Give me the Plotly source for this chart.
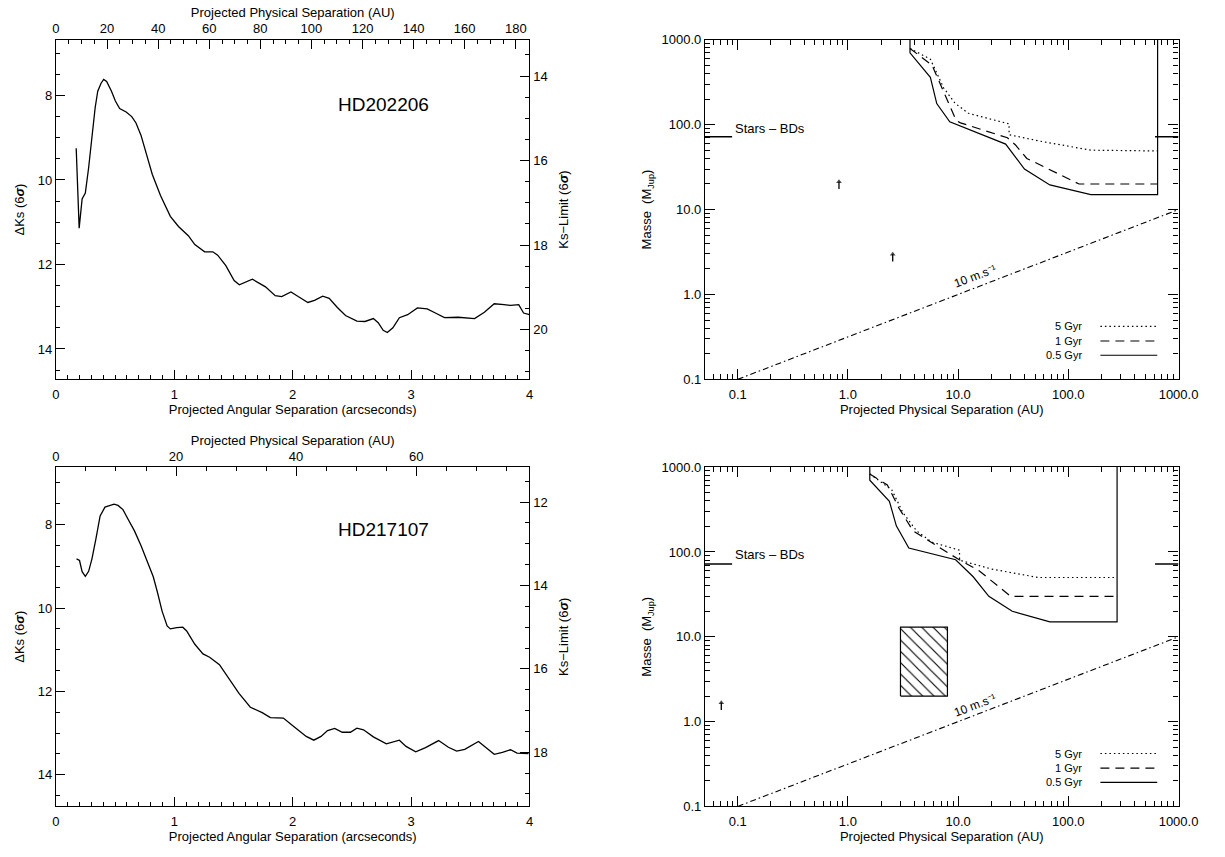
import math
import plotly.graph_objects as go

W, H = 1225, 857

# ---------------- data ----------------
# HD202206 : 6-sigma contrast curve (arcsec, Delta Ks)
hd202206_sep = [0.171, 0.196, 0.221, 0.248, 0.276, 0.304, 0.331, 0.353, 0.381, 0.403, 0.428, 0.469,
                0.502, 0.538, 0.593, 0.640, 0.676, 0.718, 0.768, 0.814, 0.883, 0.966, 1.035, 1.118,
                1.173, 1.256, 1.325, 1.366, 1.435, 1.505, 1.549, 1.659, 1.770, 1.852, 1.907, 1.985,
                2.046, 2.128, 2.184, 2.253, 2.308, 2.377, 2.446, 2.542, 2.611, 2.681, 2.722, 2.764,
                2.799, 2.846, 2.901, 2.971, 3.053, 3.136, 3.205, 3.282, 3.398, 3.467, 3.536, 3.619,
                3.702, 3.785, 3.840, 3.909, 3.950, 4.000]
hd202206_dks = [9.25, 11.14, 10.45, 10.31, 9.71, 8.94, 8.29, 7.90, 7.71, 7.62, 7.67, 7.90,
                8.13, 8.31, 8.39, 8.50, 8.65, 8.94, 9.41, 9.87, 10.37, 10.86, 11.10, 11.32,
                11.53, 11.70, 11.70, 11.78, 12.03, 12.38, 12.48, 12.35, 12.53, 12.74, 12.76, 12.65,
                12.76, 12.90, 12.85, 12.75, 12.80, 13.02, 13.21, 13.34, 13.35, 13.28, 13.38, 13.56,
                13.61, 13.50, 13.26, 13.19, 13.03, 13.05, 13.15, 13.26, 13.25, 13.27, 13.28, 13.13,
                12.93, 12.95, 12.97, 12.95, 13.15, 13.19]

# HD217107 : 6-sigma contrast curve
hd217107_sep = [0.174, 0.199, 0.221, 0.248, 0.276, 0.304, 0.337, 0.373, 0.414, 0.455, 0.491, 0.524,
                0.566, 0.607, 0.663, 0.718, 0.768, 0.822, 0.856, 0.897, 0.939, 0.966, 1.021, 1.071,
                1.104, 1.173, 1.242, 1.298, 1.381, 1.463, 1.546, 1.642, 1.742, 1.811, 1.921, 1.990,
                2.046, 2.114, 2.178, 2.239, 2.294, 2.355, 2.418, 2.487, 2.542, 2.598, 2.681, 2.791,
                2.901, 2.957, 3.039, 3.122, 3.232, 3.315, 3.385, 3.453, 3.569, 3.633, 3.702, 3.771,
                3.840, 3.895, 3.992]
hd217107_dks = [8.82, 8.86, 9.13, 9.24, 9.12, 8.82, 8.35, 7.79, 7.58, 7.54, 7.51, 7.54,
                7.64, 7.86, 8.15, 8.50, 8.86, 9.25, 9.61, 10.08, 10.43, 10.50, 10.47, 10.46,
                10.55, 10.87, 11.10, 11.18, 11.36, 11.69, 12.05, 12.38, 12.51, 12.63, 12.64, 12.80,
                12.92, 13.08, 13.17, 13.08, 12.94, 12.89, 12.98, 12.98, 12.88, 12.92, 13.09, 13.26,
                13.17, 13.32, 13.45, 13.35, 13.18, 13.34, 13.43, 13.39, 13.20, 13.35, 13.51, 13.46,
                13.40, 13.48, 13.49]

hd202206_dist_pc = 46.34
hd217107_dist_pc = 19.72
hd202206_kmag = 6.46
hd217107_kmag = 4.54

# Mass detection limits (AU, M_Jup) for HD202206
b_05_a = [3.66, 3.66, 5.6, 6.4, 8.4, 27.0, 40.0, 68.0, 160.0, 646.0, 646.0]
b_05_m = [1000.0, 700.0, 360.0, 177.0, 108.0, 59.0, 30.0, 19.5, 15.0, 15.0, 1000.0]
b_1_a = [3.66, 5.8, 9.6, 10.5, 28.0, 33.0, 42.0, 125.0, 646.0]
b_1_m = [790.0, 500.0, 112.0, 105.0, 70.0, 58.0, 40.0, 20.0, 20.0]
b_5_a = [3.66, 5.6, 7.4, 9.4, 12.4, 29.0, 29.0, 55.0, 160.0, 646.0]
b_5_m = [790.0, 590.0, 270.0, 178.0, 136.0, 102.0, 76.0, 64.0, 50.0, 49.0]

# Mass detection limits for HD217107
d_05_a = [1.58, 1.58, 2.38, 2.75, 3.57, 9.5, 13.7, 19.0, 31.0, 68.0, 277.0, 277.0]
d_05_m = [1000.0, 700.0, 395.0, 203.0, 111.0, 81.0, 51.0, 30.0, 20.0, 15.0, 15.0, 1000.0]
d_1_a = [1.58, 2.28, 2.9, 3.9, 4.6, 9.9, 15.5, 30.0, 277.0]
d_1_m = [830.0, 615.0, 330.0, 177.0, 155.0, 83.0, 60.0, 30.0, 30.0]
d_5_a = [1.58, 2.5, 3.16, 4.2, 5.8, 10.3, 10.3, 20.0, 53.0, 277.0]
d_5_m = [830.0, 540.0, 290.0, 177.0, 130.0, 105.0, 80.0, 63.0, 50.0, 50.0]

planets_202206_a = [0.83, 2.55]
planets_202206_m = [17.4, 2.44]
planets_217107_a = [0.071]
planets_217107_m = [1.37]
hd217107c_a = [3.0, 8.0]
hd217107c_m = [2.0, 13.0]

rv10_a = [0.1, 1000.0]
rv10_m = [0.1, 10.0]
stars_bd_mass = 72.0
stars_bd_left_a = [0.05, 0.089]
stars_bd_right_a = [612.0, 1000.0]

legend_labels = ["5 Gyr", "1 Gyr", "0.5 Gyr"]

# ---------------- styling ----------------
FONT = "Liberation Sans"
BLACK = "black"
DOT = "1.5px,3px"
DASH = "9px,6px"
DASHDOT = "6px,3px,1.5px,3px"
ARROW_FACTOR = 1.22  # length of the lower-limit arrows (multiplicative, log axis)


def xdom(x0, x1):
    return [x0 / W, x1 / W]


def ydom(top, bottom):
    return [1 - bottom / H, 1 - top / H]


LEFT_X = xdom(53, 536)
RIGHT_X = xdom(715, 1198)
TOP_Y = ydom(33.3, 379)
BOT_Y = ydom(468.3, 813.7)

base = dict(showline=True, linecolor=BLACK, linewidth=1.2, ticks="inside", tickcolor=BLACK,
            tickwidth=1.2, showgrid=False, zeroline=False,
            tickfont=dict(family=FONT, size=13, color=BLACK))


def minor(dt, tick0=0):
    return dict(ticks="inside", dtick=dt, tick0=tick0, ticklen=4, tickcolor=BLACK,
                tickwidth=1.0, showgrid=False)


log_minor_vals = [k * 10 ** e for e in range(-2, 4) for k in range(2, 10)]
log_minor = dict(ticks="inside", tickmode="array", tickvals=log_minor_vals, ticklen=5,
                 tickcolor=BLACK, tickwidth=1.0, showgrid=False)

fig = go.Figure()

# --------- left panels ---------
left_cfg = [
    (hd202206_sep, hd202206_dks, hd202206_dist_pc, hd202206_kmag, "x", "x2", "y", "y2", TOP_Y, [14.72, 6.68]),
    (hd217107_sep, hd217107_dks, hd217107_dist_pc, hd217107_kmag, "x4", "x5", "y4", "y5", BOT_Y, [14.76, 6.62]),
]
for sep, dks, dist, kmag, xa, xt, ya, yr, ydomain, yrange in left_cfg:
    fig.add_trace(go.Scatter(x=sep, y=dks, mode="lines", xaxis=xa, yaxis=ya,
                             line=dict(color=BLACK, width=1.3), showlegend=False, hoverinfo="skip"))
    fig.add_trace(go.Scatter(x=[], y=[], mode="lines", xaxis=xt, yaxis=yr, showlegend=False))
    xn = "xaxis" + xa[1:]
    xtn = "xaxis" + xt[1:]
    yn = "yaxis" + ya[1:]
    yrn = "yaxis" + yr[1:]
    fig.layout[xn] = dict(base, domain=LEFT_X, range=[0, 4], tick0=0, dtick=1, ticklen=9,
                          minor=minor(0.1), anchor=ya, side="bottom", ticklabelstandoff=3,
                          title=dict(text="Projected Angular Separation (arcseconds)",
                                     font=dict(family=FONT, size=13, color=BLACK), standoff=3))
    fig.layout[xtn] = dict(base, range=[0, 4 * dist], tick0=0, dtick=20, ticklen=9,
                           minor=minor(5), overlaying=xa, anchor=ya, side="top",
                           title=dict(text="Projected Physical Separation (AU)",
                                      font=dict(family=FONT, size=13, color=BLACK), standoff=0))
    fig.layout[yn] = dict(base, domain=ydomain, range=yrange, tick0=0, dtick=2, ticklen=9,
                          minor=minor(0.5), anchor=xa, side="left",
                          title=dict(text="ΔKs (6<b><i>σ</i></b>)",
                                     font=dict(family=FONT, size=13, color=BLACK), standoff=10))
    fig.layout[yrn] = dict(base, range=[yrange[0] + kmag, yrange[1] + kmag], tick0=0, dtick=2,
                           ticklen=9, minor=minor(0.5), overlaying=ya, anchor=xa, side="right",
                           title=dict(text="Ks−Limit (6<b><i>σ</i></b>)",
                                      font=dict(family=FONT, size=13, color=BLACK), standoff=12))

# --------- right panels ---------
right_cfg = [
    ("x3", "y3", TOP_Y, (b_5_a, b_5_m), (b_1_a, b_1_m), (b_05_a, b_05_m),
     planets_202206_a, planets_202206_m),
    ("x6", "y6", BOT_Y, (d_5_a, d_5_m), (d_1_a, d_1_m), (d_05_a, d_05_m),
     planets_217107_a, planets_217107_m),
]
for xa, ya, ydomain, c5, c1, c05, pa, pm in right_cfg:
    for (ax_, my_), dash in ((c5, DOT), (c1, DASH), (c05, "solid")):
        fig.add_trace(go.Scatter(x=ax_, y=my_, mode="lines", xaxis=xa, yaxis=ya,
                                 line=dict(color=BLACK, width=1.2, dash=dash),
                                 showlegend=False, hoverinfo="skip"))
    # 10 m/s RV limit
    fig.add_trace(go.Scatter(x=rv10_a, y=rv10_m, mode="lines", xaxis=xa, yaxis=ya,
                             line=dict(color=BLACK, width=1.1, dash=DASHDOT),
                             showlegend=False, hoverinfo="skip"))
    # stars / brown dwarfs boundary
    for seg in (stars_bd_left_a, stars_bd_right_a):
        fig.add_trace(go.Scatter(x=seg, y=[stars_bd_mass] * len(seg), mode="lines",
                                 xaxis=xa, yaxis=ya, line=dict(color=BLACK, width=1.5),
                                 showlegend=False, hoverinfo="skip"))
    # planets (minimum masses) : short upward arrows
    for a, m in zip(pa, pm):
        fig.add_trace(go.Scatter(x=[a, a], y=[m, m * ARROW_FACTOR], mode="lines+markers",
                                 xaxis=xa, yaxis=ya, line=dict(color=BLACK, width=1.3),
                                 marker=dict(symbol=["line-ew", "triangle-up"], size=[0, 5],
                                             color=BLACK, line=dict(width=0)),
                                 showlegend=False, hoverinfo="skip"))
    xn = "xaxis" + xa[1:]
    yn = "yaxis" + ya[1:]
    fig.layout[xn] = dict(base, type="log", domain=RIGHT_X, range=[math.log10(0.0505), 3],
                          tickmode="array", tickvals=[0.1, 1, 10, 100, 1000],
                          ticktext=["0.1", "1.0", "10.0", "100.0", "1000.0"], ticklen=10,
                          minor=log_minor, mirror="ticks", anchor=ya, ticklabelstandoff=3,
                          title=dict(text="Projected Physical Separation (AU)",
                                     font=dict(family=FONT, size=13, color=BLACK), standoff=3))
    fig.layout[yn] = dict(base, type="log", domain=ydomain, range=[-1, 3],
                          tickmode="array", tickvals=[0.1, 1, 10, 100, 1000],
                          ticktext=["0.1", "1.0", "10.0", "100.0", "1000.0"], ticklen=10,
                          minor=log_minor, mirror="ticks", anchor=xa,
                          title=dict(text="Masse  (M<sub>Jup</sub>)",
                                     font=dict(family=FONT, size=13, color=BLACK), standoff=6))
    # legend
    for lab, dash, yy in zip(legend_labels, (DOT, DASH, "solid"), (0.156, 0.113, 0.071)):
        fig.add_annotation(x=0.80, y=yy, xref=xa + " domain", yref=ya + " domain", text=lab,
                           showarrow=False, xanchor="right", yanchor="middle",
                           font=dict(family=FONT, size=11, color=BLACK))
        fig.add_shape(type="line", x0=0.835, x1=0.955, y0=yy, y1=yy, xref=xa + " domain",
                      yref=ya + " domain", line=dict(color=BLACK, width=1.2, dash=dash))

# hatched region for HD217107 c
fig.add_trace(go.Scatter(
    x=[hd217107c_a[0], hd217107c_a[1], hd217107c_a[1], hd217107c_a[0], hd217107c_a[0]],
    y=[hd217107c_m[0], hd217107c_m[0], hd217107c_m[1], hd217107c_m[1], hd217107c_m[0]],
    mode="lines", fill="toself", xaxis="x6", yaxis="y6",
    fillcolor="white",
    fillpattern=dict(shape="\\", fgcolor=BLACK, bgcolor="white", fgopacity=1,
                     size=8, solidity=0.14),
    line=dict(color=BLACK, width=1.2), showlegend=False, hoverinfo="skip"))

# --------- text annotations ---------
fig.add_annotation(x=2.77, y=8.21, xref="x", yref="y", text="HD202206", showarrow=False,
                   font=dict(family=FONT, size=19, color=BLACK))
fig.add_annotation(x=2.77, y=8.12, xref="x4", yref="y4", text="HD217107", showarrow=False,
                   font=dict(family=FONT, size=19, color=BLACK))
for xa, ya, ylab in (("x3", "y3", 1.96), ("x6", "y6", 1.969)):
    fig.add_annotation(x=math.log10(0.091), y=ylab, xref=xa, yref=ya, text="Stars – BDs",
                       showarrow=False, xanchor="left",
                       font=dict(family=FONT, size=13, color=BLACK))
for xa, ya, ylab in (("x3", "y3", 0.223), ("x6", "y6", 0.195)):
    fig.add_annotation(x=1.157, y=ylab, xref=xa, yref=ya, text="10 m.s⁻¹",
                       showarrow=False, textangle=-21,
                       font=dict(family=FONT, size=12, color=BLACK))

fig.update_layout(width=W, height=H, margin=dict(l=0, r=0, t=0, b=0),
                  paper_bgcolor="white", plot_bgcolor="white",
                  font=dict(family=FONT, size=13, color=BLACK), showlegend=False)

fig.write_html("out.html")
